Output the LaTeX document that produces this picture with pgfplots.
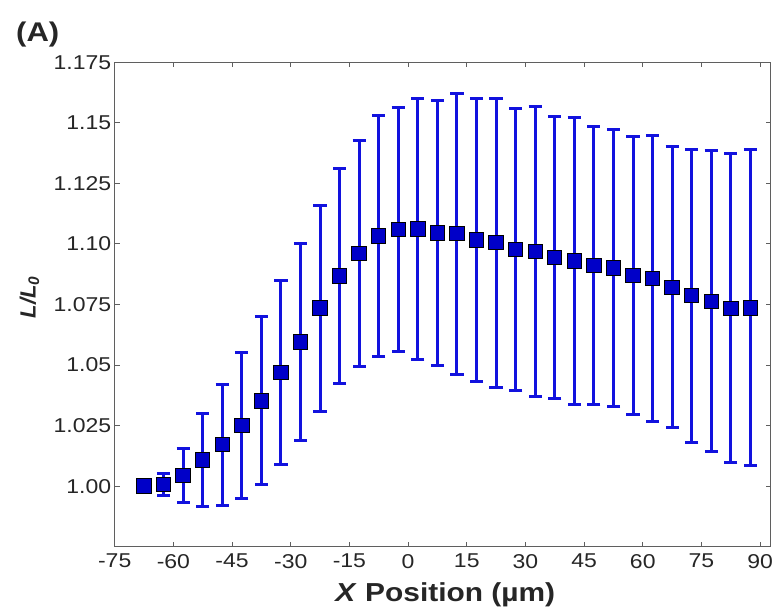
\documentclass[border=0pt]{standalone}
\usepackage{fontspec}
\setmainfont[FakeStretch=1.15]{Liberation Sans}
\newfontfamily\plainsans{Liberation Sans}
\usepackage{pgfplots}
\usepackage{pgfplotstable}
\pgfplotsset{compat=1.18}
\definecolor{barblue}{RGB}{18,18,222}
\definecolor{mkblue}{RGB}{0,0,200}
\definecolor{axgray}{RGB}{95,95,95}

% x position, L/L0, error (symmetric)
\pgfplotstableread{
x y e
-67.5 1.0000 0.0000
-62.5 1.0007 0.0047
-57.5 1.0044 0.0112
-52.5 1.0108 0.0190
-47.5 1.0171 0.0249
-42.5 1.0250 0.0302
-37.5 1.0352 0.0347
-32.5 1.0468 0.0380
-27.5 1.0595 0.0405
-22.5 1.0735 0.0425
-17.5 1.0868 0.0445
-12.5 1.0960 0.0466
-7.5 1.1032 0.0497
-2.5 1.1060 0.0505
2.5 1.1061 0.0539
7.5 1.1045 0.0547
12.5 1.1043 0.0580
17.5 1.1017 0.0585
22.5 1.1005 0.0596
27.5 1.0977 0.0581
32.5 1.0970 0.0599
37.5 1.0944 0.0584
42.5 1.0930 0.0592
47.5 1.0911 0.0572
52.5 1.0900 0.0571
57.5 1.0869 0.0573
62.5 1.0857 0.0591
67.5 1.0821 0.0580
72.5 1.0787 0.0605
77.5 1.0763 0.0621
82.5 1.0734 0.0638
87.5 1.0736 0.0652
}\datatable

\begin{document}
\begin{tikzpicture}
\begin{axis}[
  scale only axis, width=656pt, height=484.4pt,
  at={(0,0)}, anchor=south west,
  xmin=-75, xmax=92.7, ymin=0.975, ymax=1.175,
  xtick={-75,-60,-45,-30,-15,0,15,30,45,60,75,90},
  xticklabels={-75,-60,-45,-30,-15,0,15,30,45,60,75,90},
  ytick={1,1.025,1.05,1.075,1.1,1.125,1.15,1.175},
  yticklabels={1.00,1.025,1.05,1.075,1.10,1.125,1.15,1.175},
  tick align=inside, major tick length=5pt,
  axis line style={axgray, line width=0.9pt},
  every tick/.style={axgray, line width=0.9pt},
  tick label style={font=\fontsize{20}{24}\selectfont, text=black!85},
  xticklabel style={yshift=-4pt},
  /pgf/number format/assume math mode=true,
  xlabel={\bfseries\textit{X} Position (µm)},
  xlabel style={at={(axis description cs:0.504,-0.114)}, anchor=base,
    font=\fontsize{26}{30}\selectfont, text=black!85},
  ylabel={\plainsans\bfseries\itshape L/L\textsubscript{0}},
  ylabel style={at={(axis description cs:-0.13,0.5155)}, anchor=center, rotate=0,
    font=\fontsize{22}{26}\selectfont, text=black!85},
  clip=false,
]
\addplot[only marks, mark=square*, mark size=7.2pt,
  mark options={fill=mkblue, draw=black, line width=1pt},
  error bars/.cd, y dir=both, y explicit,
  error bar style={line width=3pt, color=barblue},
  error mark options={rotate=90, mark size=6.6pt, line width=3pt, color=barblue},
] table[x=x, y=y, y error=e] {\datatable};
\end{axis}
\node[anchor=base west, font=\bfseries\fontsize{27}{31}\selectfont, text=black!85]
  at (-102pt,505.5pt) {(A)};
\pgfresetboundingbox
\path (-114.7pt,-63.3pt) rectangle (661.3pt,546.7pt);
\end{tikzpicture}
\end{document}
